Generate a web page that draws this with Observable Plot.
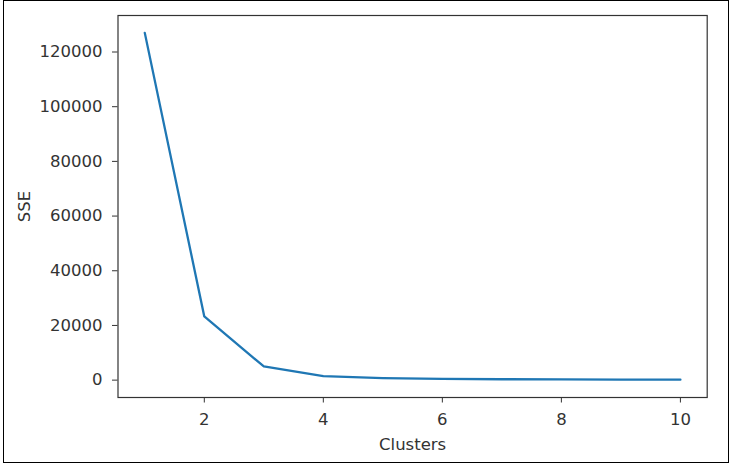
<!DOCTYPE html>
<html><head><meta charset="utf-8">
<script src="https://cdn.jsdelivr.net/npm/d3@7"></script>
<script src="https://cdn.jsdelivr.net/npm/@observablehq/plot@0.6"></script>
<style>
body{margin:0;background:#fff;}
#wrap{position:relative;width:730px;height:463px;}
#border{position:absolute;left:3px;top:0px;width:724px;height:461px;border:1px solid #000;pointer-events:none;}
</style></head>
<body><div id="wrap"><div id="chart"></div><div id="border"></div></div>
<script>
const clusters = [1,2,3,4,5,6,7,8,9,10];
const sse = [127000, 23300, 5000, 1500, 750, 450, 330, 260, 210, 170];
const xTicks = [2,4,6,8,10];
const yTicks = [0,20000,40000,60000,80000,100000,120000];
const data = clusters.map((k,i)=>({k, sse: sse[i]}));
const font = "DejaVu Sans, sans-serif";
const chart = Plot.plot({
  width: 730, height: 463,
  marginLeft: 117.5, marginRight: 23.3, marginTop: 15, marginBottom: 66,
  style: {fontFamily: font, fontSize: "16.5px", color: "#333", background: "transparent"},
  x: {domain: [0.55, 10.45]},
  y: {domain: [-6350, 133350]},
  marks: [
    Plot.frame({stroke: "#333", strokeWidth: 1.2}),
    Plot.axisX({ticks: xTicks, tickSize: 5.5, tickPadding: 10, tickFormat: d=>String(d), label: "Clusters", labelAnchor: "center", labelArrow: "none", labelOffset: 52, stroke:"#333"}),
    Plot.axisY({ticks: yTicks, tickSize: 5.5, tickPadding: 10, tickFormat: d=>String(d), label: "SSE", labelAnchor: "center", labelArrow: "none", labelOffset: 100, stroke:"#333"}),
    Plot.line(data, {x: "k", y: "sse", stroke: "#1f77b4", strokeWidth: 2.3})
  ]
});
document.getElementById("chart").appendChild(chart);
</script></body></html>
